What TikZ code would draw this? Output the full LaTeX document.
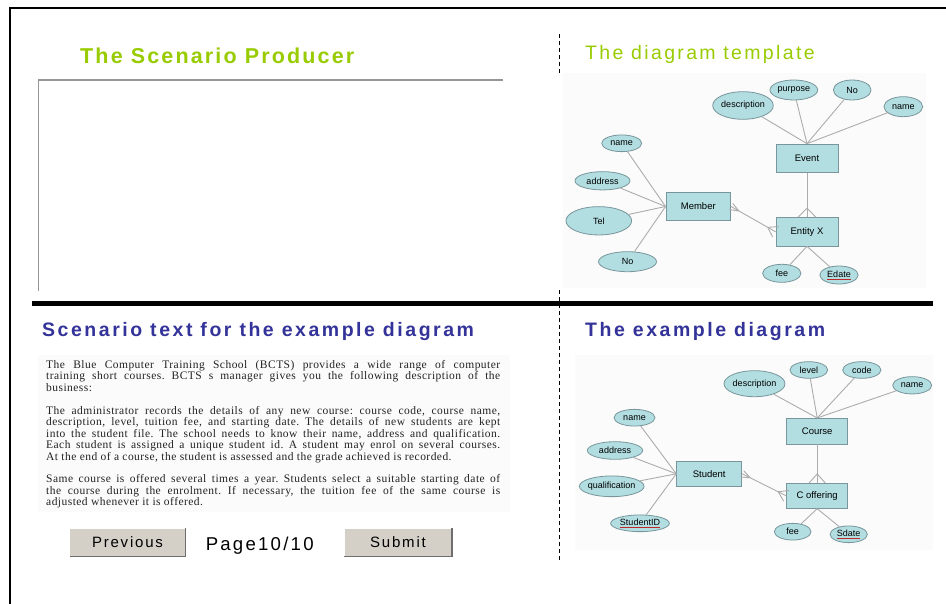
\documentclass[tikz,border=0pt]{standalone}
\usepackage{fontspec}
\setmainfont{Liberation Serif}
\setsansfont{Liberation Sans}
\usetikzlibrary{shapes.geometric,calc}

\definecolor{prodgreen}{RGB}{153,204,0}
\definecolor{titleblue}{RGB}{51,51,153}
\definecolor{erfill}{RGB}{178,221,225}
\definecolor{erborder}{RGB}{120,150,155}
\definecolor{erline}{RGB}{172,172,172}
\definecolor{panelbg}{RGB}{251,251,251}
\definecolor{btnface}{RGB}{212,208,200}
\definecolor{btnshade}{RGB}{110,110,110}
\definecolor{boxgray}{RGB}{150,150,150}
\definecolor{keyred}{RGB}{190,40,40}
\definecolor{paratext}{RGB}{35,35,35}

% text of an attribute, kept out of the ellipse size
\newcommand\attrlabel[1]{\makebox[0pt]{#1}}
% key attribute: red underline under black text
\newcommand\keylabel[1]{\makebox[0pt]{\color{keyred}\underline{\textcolor{black}{#1}}}}
% crow's foot: tip on the entity border #1, line towards #2, half spread #3
\newcommand\crowsfoot[3]{%
  \draw[relline] ($(#1)!9pt!(#2)$) -- ($(#1)!#3!90:(#2)$)
                 ($(#1)!9pt!(#2)$) -- ($(#1)!#3!-90:(#2)$);}

\begin{document}
\begin{tikzpicture}[x=1pt,y=-1pt,
  entity/.style={draw=erborder, fill=erfill, line width=0.8pt, inner sep=0pt,
    font=\sffamily\fontsize{9.5}{11}\selectfont},
  attr/.style 2 args={ellipse, draw=erborder, fill=erfill, line width=0.8pt,
    inner sep=0pt, minimum width=#1, minimum height=#2,
    font=\sffamily\fontsize{9}{10}\selectfont},
  relline/.style={draw=erline, line width=0.9pt},
  greentitle/.style={anchor=base west, inner sep=0pt, text=prodgreen},
  bluetitle/.style={anchor=base west, inner sep=0pt, text=titleblue,
    font=\sffamily\bfseries\fontsize{19.5}{22}\selectfont\addfontfeature{LetterSpace=13}},
  paraline/.style={anchor=base west, inner sep=0pt, text=paratext,
    font=\fontsize{11.5}{11.5}\selectfont\addfontfeature{LetterSpace=4}\frenchspacing},
  button/.style={fill=btnface, inner sep=0pt, minimum height=28,
    font=\sffamily\fontsize{15}{16}\selectfont\addfontfeature{LetterSpace=12}},
  sep/.style={dashed, dash pattern=on 4pt off 3pt, line width=0.9pt}
]
\useasboundingbox (0,0) rectangle (946,604);
\fill[white] (0,0) rectangle (946,604);

% page frame
\draw[line width=2pt] (946,8) -- (10,8) -- (10,604);

% ---------------- producer area ----------------
\node[greentitle, font=\sffamily\bfseries\fontsize{21.5}{24}\selectfont\addfontfeature{LetterSpace=10}]
  (prodtitle) at (80,63.3) {The Scenario Producer};
\draw[boxgray, line width=1.2pt] (503,80) -- (38.6,80) -- (38.6,291);

% ---------------- separators ----------------
\draw[line width=5pt] (31.5,303.5) -- (933,303.5);
\draw[sep] (559,34) -- (559,75);
\draw[sep] (559,290) -- (559,562);

% ---------------- diagram template ----------------
\node[greentitle, font=\sffamily\fontsize{19.5}{22}\selectfont\addfontfeature{LetterSpace=12}]
  (tpltitle) at (585,60) {The diagram template};
\fill[panelbg] (563,73) rectangle (926,288);

\node[entity, minimum width=62, minimum height=28.5] (event) at (807,158.3) {Event};
\node[entity, minimum width=64.7, minimum height=28.3] (member) at (698.3,206.5) {Member};
\node[entity, minimum width=62, minimum height=28.3] (entx) at (807,231.8) {Entity X};

\node[attr={60.6}{27.6}] (tdesc) at (743,105.5) {\attrlabel{description}};
\node[attr={47.7}{20}] (tpurp) at (793.8,90) {\attrlabel{purpose}};
\node[attr={37.7}{20}] (tno) at (852.2,90) {\attrlabel{No}};
\node[attr={38.7}{20}] (tname) at (903.3,106.7) {\attrlabel{name}};
\node[attr={40}{16.7}] (mname) at (621.7,143.3) {\attrlabel{name}};
\node[attr={55}{18.3}] (maddr) at (602.5,180.8) {\attrlabel{address}};
\node[attr={65.7}{28.3}] (mtel) at (598.8,220.8) {\attrlabel{Tel}};
\node[attr={58}{20}] (mno) at (627.5,261.7) {\attrlabel{No}};
\node[attr={38.3}{18}] (tfee) at (781.8,273.3) {\attrlabel{fee}};
\node[attr={38.3}{18}] (tedate) at (839,275) {\keylabel{Edate}};

\foreach \a in {tdesc,tpurp,tno,tname}
  \draw[relline] (\a) -- (event.north);
\foreach \a in {mname,maddr,mtel,mno}
  \draw[relline] (\a) -- (member.west);
\foreach \a in {tfee,tedate}
  \draw[relline] (entx.south) -- (\a);
\draw[relline] (event.south) -- (entx.north);
\crowsfoot{entx.north}{event.south}{9pt}
\draw[relline] (member.east) -- (entx.west);
\crowsfoot{entx.west}{member.east}{6pt}
\crowsfoot{member.east}{entx.west}{3.5pt}

% ---------------- scenario text ----------------
\node[bluetitle] (texttitle) at (42,337) {Scenario text for the example diagram};
\fill[panelbg] (38,355) rectangle (510,512);

\node[paraline] (l1) at (46,368.2) {\makebox[454pt][s]{The Blue Computer Training School (BCTS) provides a wide range of computer}};
\node[paraline] (l2) at (46,379.7) {\makebox[454pt][s]{training short courses. BCTS s manager gives you the following description of the}};
\node[paraline] (l3) at (46,391.1) {business:};
\node[paraline] (l4) at (46,414.1) {\makebox[454pt][s]{The administrator records the details of any new course: course code, course name,}};
\node[paraline] (l5) at (46,425.6) {\makebox[454pt][s]{description, level, tuition fee, and starting date. The details of new students are kept}};
\node[paraline] (l6) at (46,437.0) {\makebox[454pt][s]{into the student file. The school needs to know their name, address and qualification.}};
\node[paraline] (l7) at (46,448.5) {\makebox[454pt][s]{Each student is assigned a unique student id. A student may enrol on several courses.}};
\node[paraline] (l8) at (46,460.0) {At the end of a course, the student is assessed and the grade achieved is recorded.};
\node[paraline] (l9) at (46,482.9) {\makebox[454pt][s]{Same course is offered several times a year. Students select a suitable starting date of}};
\node[paraline] (l10) at (46,494.4) {\makebox[454pt][s]{the course during the enrolment. If necessary, the tuition fee of the same course is}};
\node[paraline] (l11) at (46,505.8) {adjusted whenever it is offered.};

% ---------------- navigation ----------------
\node[button, minimum width=115] (prev) at (127.5,542.5) {Previous};
\node[button, minimum width=107.5] (submit) at (398,542.5) {Submit};
\foreach \b in {prev,submit}{
  \draw[white, line width=1pt] (\b.south west) -- (\b.north west) -- (\b.north east);
  \draw[btnshade, line width=1.3pt] (\b.north east) -- (\b.south east) -- (\b.south west);
}
\node[anchor=base, inner sep=0pt, font=\sffamily\fontsize{18.6}{20}\selectfont\addfontfeature{LetterSpace=12}]
  (page) at (259.7,550) {Page10/10};

% ---------------- example diagram ----------------
\node[bluetitle] (extitle) at (585,337) {The example diagram};
\fill[panelbg] (575,355) rectangle (933,550);

\node[entity, minimum width=61, minimum height=25.7] (course) at (817.2,431.2) {Course};
\node[entity, minimum width=65, minimum height=25.7] (student) at (709.2,473.8) {Student};
\node[entity, minimum width=61, minimum height=25] (coff) at (817.2,495.8) {C offering};

\node[attr={61}{26}] (cdesc) at (754.5,383.7) {\attrlabel{description}};
\node[attr={37.7}{16.7}] (clevel) at (808.8,370) {\attrlabel{level}};
\node[attr={38.3}{16.7}] (ccode) at (861.8,370) {\attrlabel{code}};
\node[attr={39}{17.3}] (cname) at (912.2,385.3) {\attrlabel{name}};
\node[attr={41}{16.7}] (sname) at (634.5,417.7) {\attrlabel{name}};
\node[attr={55.3}{17.6}] (saddr) at (615,450.5) {\attrlabel{address}};
\node[attr={64.7}{20.7}] (squal) at (611.7,486.3) {\attrlabel{qualification}};
\node[attr={58.7}{16.7}] (sid) at (640,523.3) {\keylabel{StudentID}};
\node[attr={36.7}{16.7}] (ofee) at (792.7,531.7) {\attrlabel{fee}};
\node[attr={37.3}{16.7}] (osdate) at (848.7,534.3) {\keylabel{Sdate}};

\foreach \a in {cdesc,clevel,ccode,cname}
  \draw[relline] (\a) -- (course.north);
\foreach \a in {sname,saddr,squal,sid}
  \draw[relline] (\a) -- (student.west);
\foreach \a in {ofee,osdate}
  \draw[relline] (coff.south) -- (\a);
\draw[relline] (course.south) -- (coff.north);
\crowsfoot{coff.north}{course.south}{8pt}
\draw[relline] (student.east) -- (coff.west);
\crowsfoot{coff.west}{student.east}{6pt}
\crowsfoot{student.east}{coff.west}{3.5pt}
\end{tikzpicture}
\end{document}
